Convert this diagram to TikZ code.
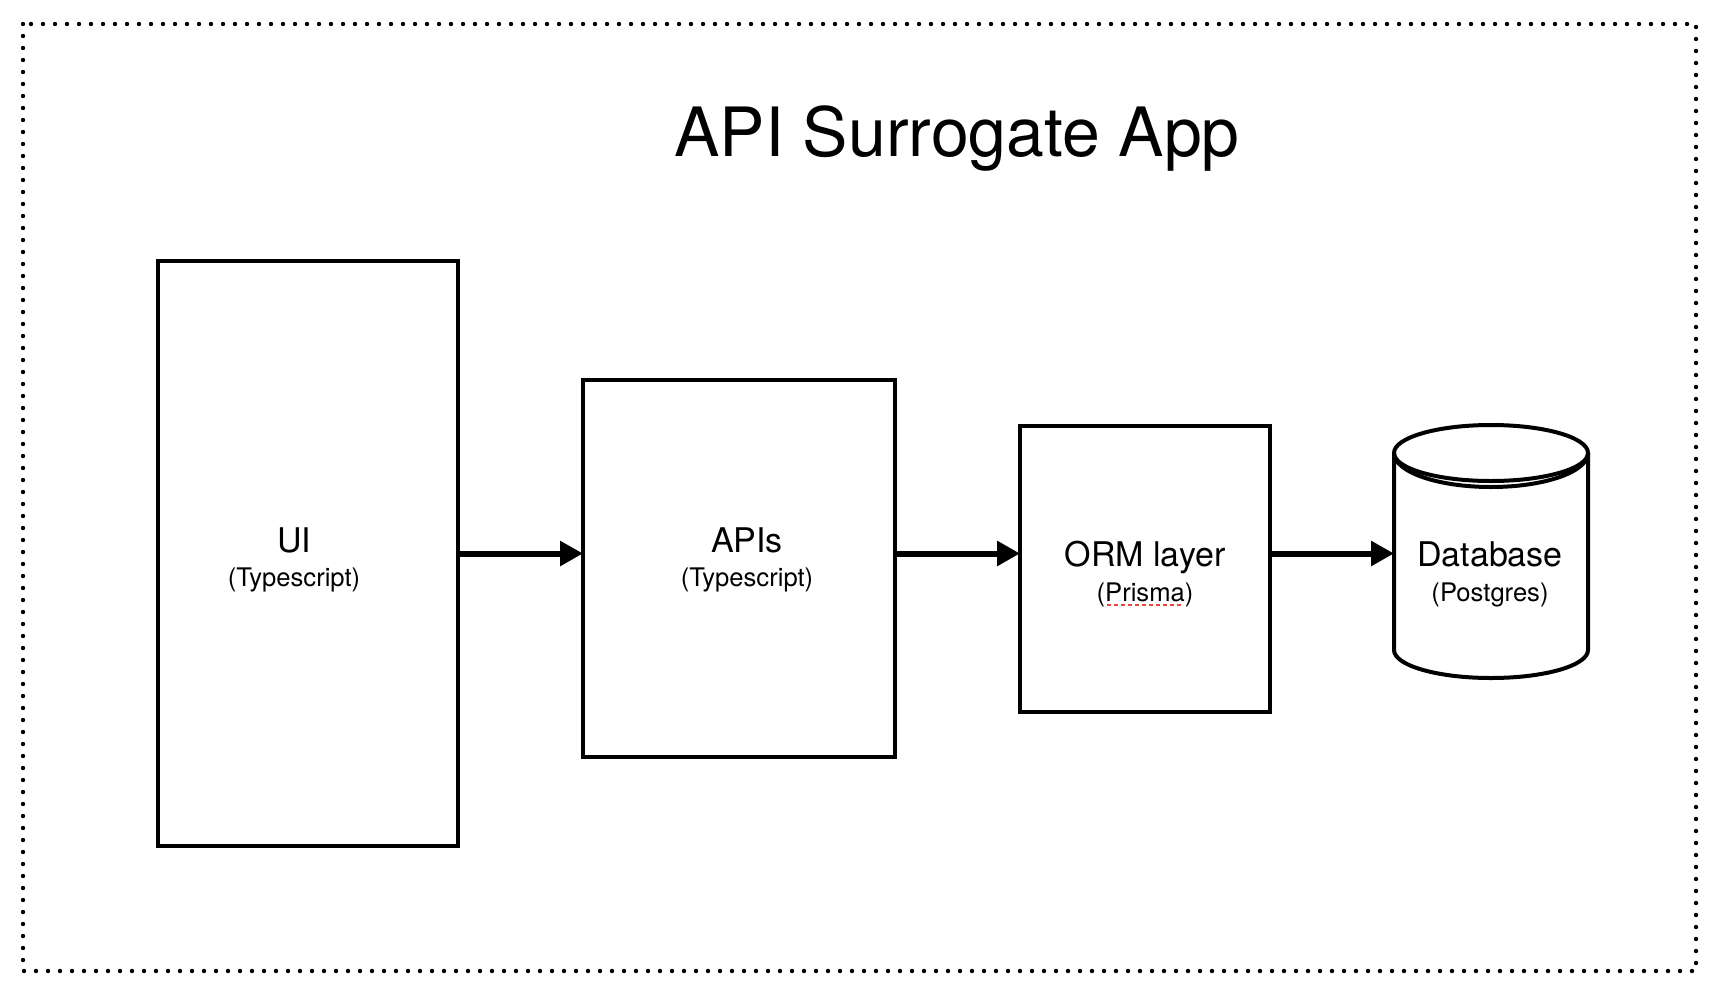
\documentclass[tikz,border=0pt]{standalone}
\usepackage{fontspec}
\setmainfont{TeX Gyre Heros}
\usetikzlibrary{arrows.meta}
\tikzset{
  blockbox/.style={draw, line width=2pt, fill=white, inner sep=0pt, outer sep=0pt},
  ghostbox/.style={inner sep=0pt, outer sep=0pt},
  mainlbl/.style={anchor=base, inner sep=0pt, font=\fontsize{17}{20}\selectfont},
  sublbl/.style={anchor=base, inner sep=0pt, font=\fontsize{12.8}{15}\selectfont},
  flowarrow/.style={line width=3pt, -{Triangle[length=11.5pt,width=12pt]}},
  framedots/.style={line width=2.2pt, line cap=round, dash pattern=on 0pt off 6pt},
  cyl/.style={line width=2pt}
}
\begin{document}
\begin{tikzpicture}[x=0.5pt,y=-0.5pt]
\useasboundingbox[fill=white] (0,0) rectangle (1718,1002);

% dotted frame
\draw[framedots] (23,24) rectangle (1696,971);

% title
\node[anchor=base, inner sep=0pt, font=\fontsize{34}{40}\selectfont] (title) at (957,156) {API Surrogate App};

% boxes
\node[blockbox, minimum width=150pt, minimum height=292.5pt] (ui) at (308,553.5) {};
\node[blockbox, minimum width=156pt, minimum height=188.5pt] (apis) at (739,568.5) {};
\node[blockbox, minimum width=125pt, minimum height=143pt] (orm) at (1145,569) {};
\node[ghostbox, minimum width=97pt, minimum height=126.5pt] (db) at (1491,551.5) {};

% cylinder
\draw[cyl, fill=white] (1394,453) -- (1394,650)
  arc[start angle=180, end angle=0, x radius=97, y radius=28] -- (1588,453);
\draw[cyl, fill=white] (1491,453) ellipse [x radius=97, y radius=28];
\draw[cyl] (1394,453) arc[start angle=180, end angle=0, x radius=97, y radius=34];

% labels
\node[mainlbl] (uiT) at (294,552) {UI};
\node[sublbl] (uiS) at (294,586) {(Typescript)};
\node[mainlbl] (apisT) at (747,552) {APIs};
\node[sublbl] (apisS) at (747,586) {(Typescript)};
\node[mainlbl] (ormT) at (1145,566) {ORM layer};
\node[sublbl] (ormS) at (1145,601) {(Prisma)};
\node[mainlbl] (dbT) at (1490,566) {Database};
\node[sublbl] (dbS) at (1490,601) {(Postgres)};

% spell-check underline
\draw[draw={rgb,255:red,228;green,72;blue,60}, line width=1pt, dash pattern=on 2pt off 1.5pt] (1107,605) -- (1183,605);

% arrows
\draw[flowarrow] (ui.east) -- (apis.west |- ui.east);
\draw[flowarrow] (apis.east |- ui.east) -- (orm.west |- ui.east);
\draw[flowarrow] (orm.east |- ui.east) -- (db.west |- ui.east);
\end{tikzpicture}
\end{document}
